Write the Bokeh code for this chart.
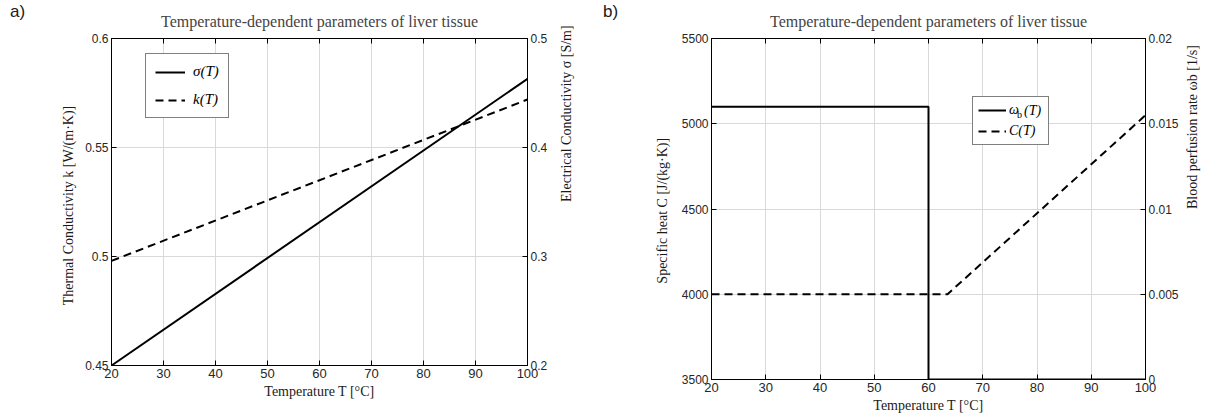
import math
from bokeh.plotting import figure
from bokeh.models import (Range1d, LinearAxis, FixedTicker, CustomJSTickFormatter,
                          Legend, LegendItem, Div)
from bokeh.layouts import row
from bokeh.embed import file_html
from bokeh.resources import INLINE

# ---------------- data ----------------
x_ticks = [20, 30, 40, 50, 60, 70, 80, 90, 100]

T_sigma = [20, 100]
sigma_vals = [0.2, 0.463]
T_k = [20, 100]
k_vals = [0.498, 0.572]
k_ticks = [0.45, 0.5, 0.55, 0.6]
sigma_ticks = [0.2, 0.3, 0.4, 0.5]

T_w = [20, 60, 60, 100]
w_vals = [0.016, 0.016, 0.0, 0.0]
T_C = [20, 63.5, 100]
C_vals = [4000, 4000, 5050]
C_ticks = [3500, 4000, 4500, 5000, 5500]
w_ticks = [0, 0.005, 0.01, 0.015, 0.02]

TITLE = "Temperature-dependent parameters of liver tissue"
SERIF = "Liberation Serif"
SANS = "Liberation Sans"


def style_axis(ax, ticks, size="12px", labels=True):
    ax.ticker = FixedTicker(ticks=ticks)
    if labels:
        ax.formatter = CustomJSTickFormatter(code="return tick.toString();")
    else:
        ax.formatter = CustomJSTickFormatter(code="return '';")
    ax.axis_line_color = "black"
    ax.axis_line_width = 1
    ax.major_tick_in = 5
    ax.major_tick_out = 0
    ax.major_tick_line_color = "black"
    ax.minor_tick_line_color = None
    ax.major_label_text_font = SANS
    ax.major_label_text_font_size = size
    ax.major_label_text_color = "#262626"
    ax.major_label_standoff = 3 if labels else 0
    ax.axis_label_text_font = SERIF
    ax.axis_label_text_font_size = "14px"
    ax.axis_label_text_font_style = "normal"
    ax.axis_label_text_color = "#1a1a1a"
    ax.axis_label_standoff = 4


def plain_legend(p, dummy, text, loc, font, size, style="normal"):
    """A borderless legend used only as a positioned text inside the frame."""
    lg = Legend(items=[LegendItem(label=text, renderers=[dummy])], location=loc)
    lg.label_text_font = font
    lg.label_text_font_size = size
    lg.label_text_font_style = style
    lg.label_text_color = "black"
    lg.glyph_width = 0
    lg.glyph_height = 1
    lg.label_height = 1
    lg.label_width = 1
    lg.label_standoff = 0
    lg.padding = 0
    lg.margin = 0
    lg.border_line_color = None
    lg.background_fill_alpha = 0
    p.add_layout(lg, "center")
    return lg


def tag(text, left, top):
    return Div(text=text, width=24, height=22,
               styles={"position": "absolute", "left": f"{left}px", "top": f"{top}px",
                       "font-family": SANS, "font-size": "17px", "color": "#1a1a1a",
                       "line-height": "20px", "margin": "0", "padding": "0"})


def make_fig(fw, fh, left, right, top, bottom, yr):
    p = figure(frame_width=fw, frame_height=fh, min_border_left=left,
               min_border_right=right, min_border_top=top, min_border_bottom=bottom,
               x_range=Range1d(20, 100), y_range=yr,
               output_backend="svg", toolbar_location=None)
    p.title.text = TITLE
    p.title.text_font = SERIF
    p.title.text_font_size = "16px"
    p.title.text_font_style = "normal"
    p.title.align = "center"
    p.title.standoff = 18
    p.outline_line_color = "black"
    p.outline_line_alpha = 1
    p.background_fill_color = "white"
    p.border_fill_color = "white"
    p.xgrid.ticker = FixedTicker(ticks=x_ticks)
    p.xgrid.grid_line_color = "#d9d9d9"
    p.ygrid.grid_line_color = "#d9d9d9"
    style_axis(p.xaxis[0], x_ticks, size="13px")
    p.xaxis[0].axis_label = "Temperature T [°C]"
    p.xaxis[0].axis_label_standoff = 3
    top_ax = LinearAxis()
    style_axis(top_ax, x_ticks, labels=False)
    p.add_layout(top_ax, "above")
    return p


# ---------------- panel a ----------------
pa = make_fig(416, 327, 111, 73, 38, 50, Range1d(0.45, 0.6))
pa.ygrid.ticker = FixedTicker(ticks=k_ticks)
style_axis(pa.yaxis[0], k_ticks)
pa.yaxis[0].axis_label = "Thermal Conductivity   k [W/(m·K)]"
pa.yaxis[0].axis_label_standoff = 6
pa.extra_y_ranges = {"sigma": Range1d(0.2, 0.5)}
ax_sig = LinearAxis(y_range_name="sigma")
style_axis(ax_sig, sigma_ticks)
ax_sig.axis_label = "Electrical Conductivity   σ [S/m]"
ax_sig.axis_label_orientation = math.pi / 2
ax_sig.axis_label_standoff = 16
pa.add_layout(ax_sig, "right")

r_sig = pa.line(T_sigma, sigma_vals, y_range_name="sigma", line_color="black", line_width=2)
r_k = pa.line(T_k, k_vals, line_color="black", line_width=2, line_dash="8 5")

leg_a = Legend(items=[LegendItem(label="σ(T)", renderers=[r_sig]),
                      LegendItem(label="k(T)", renderers=[r_k])],
               location=(34, 247), orientation="vertical")
leg_a.label_text_font = SERIF
leg_a.label_text_font_size = "15px"
leg_a.label_text_font_style = "italic"
leg_a.label_text_color = "black"
leg_a.border_line_color = "black"
leg_a.border_line_width = 1
leg_a.background_fill_alpha = 1
leg_a.padding = 9
leg_a.spacing = 11
leg_a.glyph_width = 30
leg_a.glyph_height = 16
leg_a.label_height = 16
leg_a.label_standoff = 8
leg_a.margin = 0
pa.add_layout(leg_a, "center")

# ---------------- panel b ----------------
pb = make_fig(434, 341, 111, 62, 38, 36, Range1d(3500, 5500))
pb.ygrid.ticker = FixedTicker(ticks=C_ticks)
style_axis(pb.yaxis[0], C_ticks)
pb.yaxis[0].axis_label = "Specific heat  C [J/(kg·K)]"
pb.yaxis[0].axis_label_standoff = 9
pb.extra_y_ranges = {"w": Range1d(0, 0.02)}
ax_w = LinearAxis(y_range_name="w")
style_axis(ax_w, w_ticks)
ax_w.axis_label = "Blood perfusion rate  ωb [1/s]"
ax_w.axis_label_orientation = math.pi / 2
ax_w.axis_label_standoff = 11
pb.add_layout(ax_w, "right")

r_w = pb.line(T_w, w_vals, y_range_name="w", line_color="black", line_width=2)
r_C = pb.line(T_C, C_vals, line_color="black", line_width=2, line_dash="8 5")
dummy_b = pb.line([], [], line_alpha=0)

leg_b = Legend(items=[LegendItem(label="ω", renderers=[r_w]),
                      LegendItem(label="C(T)", renderers=[r_C])],
               location=(261, 234), orientation="vertical")
leg_b.label_text_font = SERIF
leg_b.label_text_font_size = "14px"
leg_b.label_text_font_style = "italic"
leg_b.label_text_color = "black"
leg_b.border_line_color = "black"
leg_b.border_line_width = 1
leg_b.background_fill_alpha = 1
leg_b.padding = 5
leg_b.spacing = 5
leg_b.glyph_width = 28
leg_b.glyph_height = 16
leg_b.label_height = 16
leg_b.label_width = 34
leg_b.label_standoff = 3
leg_b.margin = 0
pb.add_layout(leg_b, "center")

# subscript "b" of omega and "(T)" in the legend's first row
plain_legend(pb, dummy_b, "b", (306, 259), SERIF, "10px")
plain_legend(pb, dummy_b, "(T)", (313, 260), SERIF, "14px", style="italic")

layout = row(pa, pb, tag("a)", 10, 2), tag("b)", 603, 2), spacing=0)
open("out.html", "w").write(file_html(layout, INLINE))
